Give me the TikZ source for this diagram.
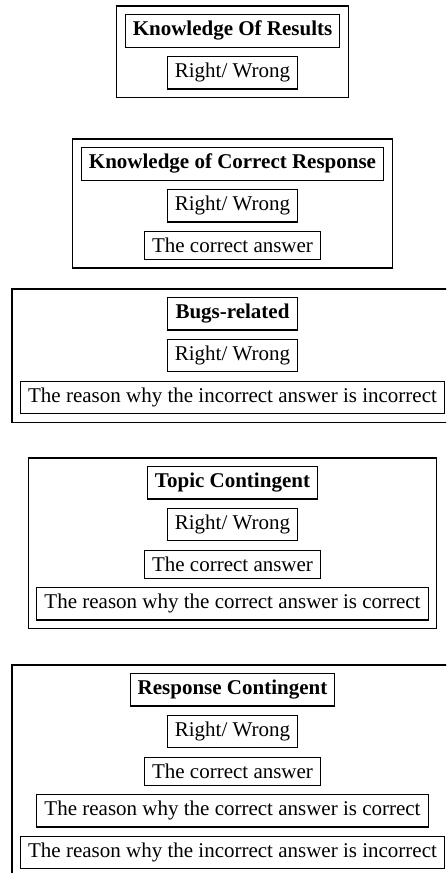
\documentclass[tikz,border=0pt]{standalone}
\usepackage{fontspec}
\setmainfont{Liberation Serif}
\usetikzlibrary{positioning,fit}
\newcommand\boxfont{\fontsize{10.5}{12.6}\selectfont}
\tikzset{
  fbx/.style={draw, line width=0.55pt, inner xsep=3.8pt, inner ysep=3.3pt, font=\boxfont},
  headbx/.style={fbx, font=\boxfont\bfseries},
  groupbx/.style={draw, line width=0.55pt, inner sep=4pt, fit=#1},
}
\begin{document}
\begin{tikzpicture}[x=0.5pt, y=-0.5pt, node distance=4.2pt]
  \path[use as bounding box, clip] (0,0) rectangle (446,873);
  % knowledge of results
  \node[headbx, anchor=north] (kr) at (232.5,14) {Knowledge Of Results};
  \node[fbx, below=of kr] (kr1) {Right/ Wrong};
  \node[groupbx={(kr)(kr1)}] (krbox) {};
  % knowledge of correct response
  \node[headbx, anchor=north] (kcr) at (232.5,147) {Knowledge of Correct Response};
  \node[fbx, below=of kcr] (kcr1) {Right/ Wrong};
  \node[fbx, below=of kcr1] (kcr2) {The correct answer};
  \node[groupbx={(kcr)(kcr1)(kcr2)}] (kcrbox) {};
  % bugs-related
  \node[headbx, anchor=north] (bug) at (232.5,297) {Bugs-related};
  \node[fbx, below=of bug] (bug1) {Right/ Wrong};
  \node[fbx, below=of bug1] (bug2) {The reason why the incorrect answer is incorrect};
  \node[groupbx={(bug)(bug1)(bug2)}] (bugbox) {};
  % topic contingent
  \node[headbx, anchor=north] (tc) at (232.5,466) {Topic Contingent};
  \node[fbx, below=of tc] (tc1) {Right/ Wrong};
  \node[fbx, below=of tc1] (tc2) {The correct answer};
  \node[fbx, below=of tc2] (tc3) {The reason why the correct answer is correct};
  \node[groupbx={(tc)(tc1)(tc2)(tc3)}] (tcbox) {};
  % response contingent
  \node[headbx, anchor=north] (rc) at (232.5,673) {Response Contingent};
  \node[fbx, below=of rc] (rc1) {Right/ Wrong};
  \node[fbx, below=of rc1] (rc2) {The correct answer};
  \node[fbx, below=of rc2] (rc3) {The reason why the correct answer is correct};
  \node[fbx, below=of rc3] (rc4) {The reason why the incorrect answer is incorrect};
  \node[groupbx={(rc)(rc1)(rc2)(rc3)(rc4)}] (rcbox) {};
\end{tikzpicture}
\end{document}
